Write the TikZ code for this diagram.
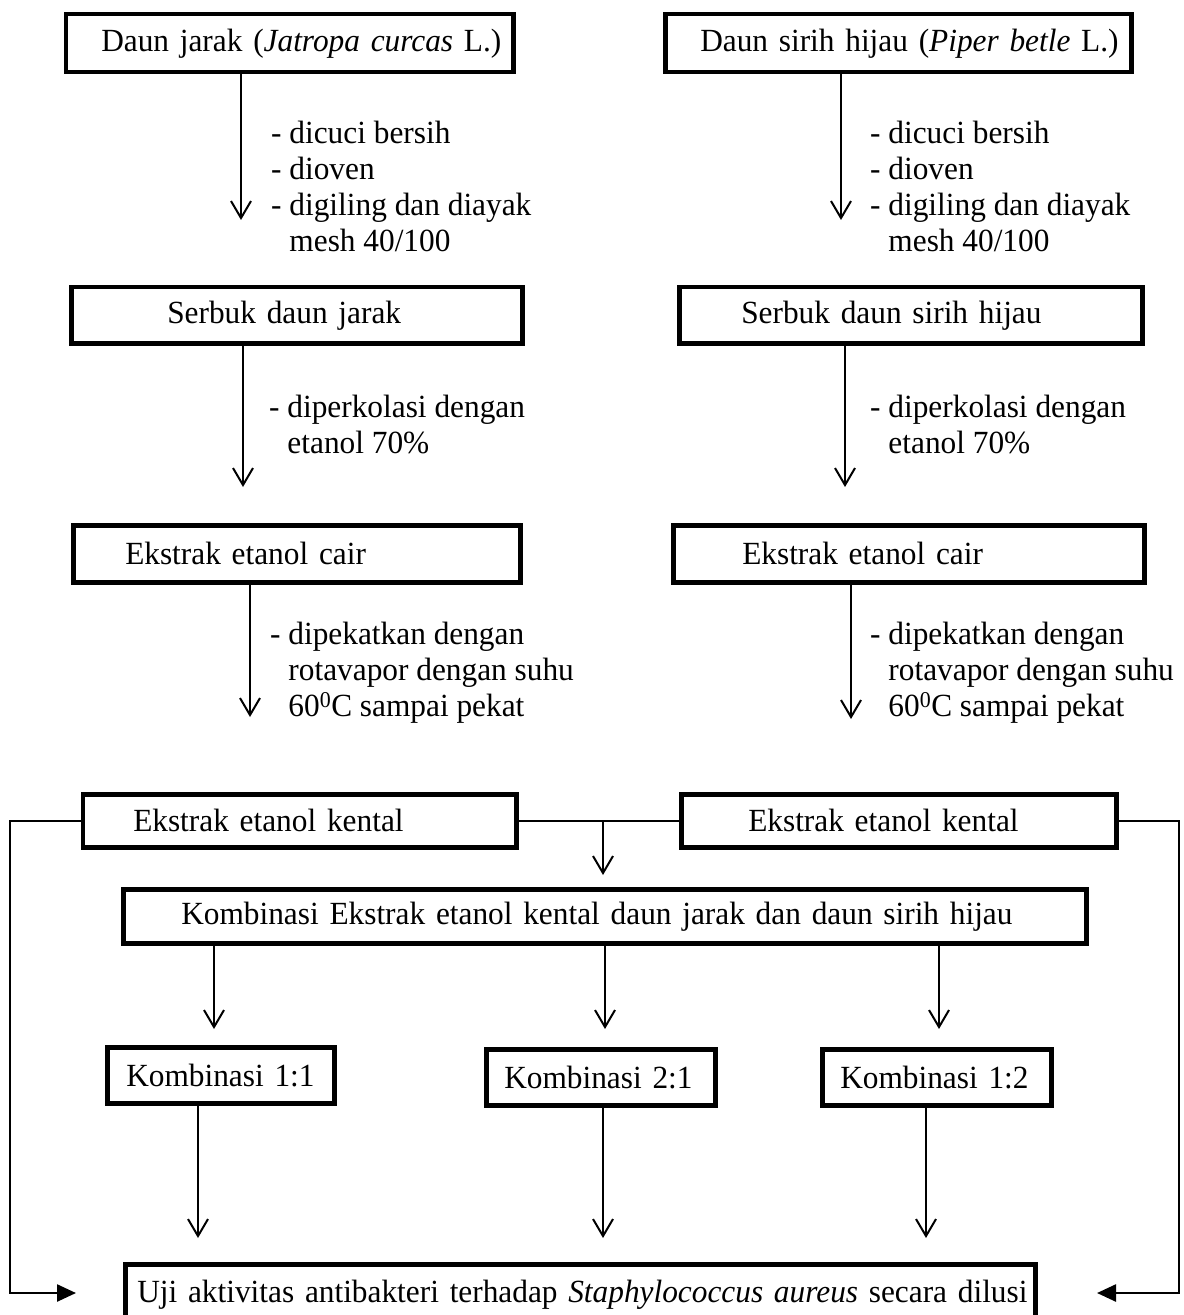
\documentclass[tikz,border=0pt]{standalone}
\usepackage{fontspec}
\setmainfont[FakeStretch=0.97]{Liberation Serif}
\usetikzlibrary{arrows.meta}
\begin{document}
\begin{tikzpicture}[x=1bp,y=-1bp,
  every node/.style={font=\fontsize{32.3bp}{36bp}\selectfont},
  box/.style={draw, line width=4.5bp, inner xsep=0pt, inner ysep=0pt, align=left, anchor=north west},
  ann/.style={inner sep=0pt, align=left, anchor=west},
  arr/.style={line width=2bp, -{Straight Barb[length=17bp,width=20bp]}},
  conn/.style={line width=2bp},
  loopline/.style={line width=2.5bp, -{Triangle[length=19bp,width=17bp]}}]
\useasboundingbox (0,0) rectangle (1183,1315);
% row 1
\node[box, text width=447.5bp, minimum height=58bp] (a1) at (63.5,12) {\mbox{\hspace*{35.5bp}Daun jarak (\textit{Jatropa curcas} L.)}};
\node[box, text width=466bp, minimum height=58bp] (b1) at (663,12) {\mbox{\hspace*{35bp}Daun sirih hijau (\textit{Piper betle} L.)}};
% row 2
\node[box, text width=451bp, minimum height=56bp] (a2) at (69,285) {\mbox{\hspace*{96bp}Serbuk daun jarak}};
\node[box, text width=463bp, minimum height=56bp] (b2) at (677,285) {\mbox{\hspace*{62bp}Serbuk daun sirih hijau}};
% row 3
\node[box, text width=447bp, minimum height=57bp] (a3) at (71,523) {\mbox{\hspace*{52bp}Ekstrak etanol cair}};
\node[box, text width=471bp, minimum height=57bp] (b3) at (671,523) {\mbox{\hspace*{69bp}Ekstrak etanol cair}};
% row 4
\node[box, text width=433.5bp, minimum height=53bp] (a4) at (80.5,792) {\mbox{\hspace*{50.5bp}Ekstrak etanol kental}};
\node[box, text width=435bp, minimum height=53bp] (b4) at (679,792) {\mbox{\hspace*{67bp}Ekstrak etanol kental}};
% combination
\node[box, text width=963bp, minimum height=54bp] (komb) at (121,887) {\mbox{\hspace*{58bp}Kombinasi Ekstrak etanol kental daun jarak dan daun sirih hijau}};
\node[box, text width=227bp, minimum height=56bp] (k11) at (105,1045) {\mbox{\hspace*{19bp}Kombinasi 1:1}};
\node[box, text width=229bp, minimum height=56bp] (k21) at (484,1047) {\mbox{\hspace*{18bp}Kombinasi 2:1}};
\node[box, text width=229bp, minimum height=56bp] (k12) at (820,1047) {\mbox{\hspace*{18bp}Kombinasi 1:2}};
\node[box, text width=910bp, minimum height=62bp] (uji) at (123,1262) {\mbox{\hspace*{12bp}Uji aktivitas antibakteri terhadap \textit{Staphylococcus aureus} secara dilusi}};
% annotations
\node[ann] (n1a) at (271,186) {- dicuci bersih\\- dioven\\- digiling dan diayak\\\hphantom{-\ }mesh 40/100};
\node[ann] (n1b) at (870,186) {- dicuci bersih\\- dioven\\- digiling dan diayak\\\hphantom{-\ }mesh 40/100};
\node[ann] (n2a) at (269,425) {- diperkolasi dengan\\\hphantom{-\ }etanol 70\%};
\node[ann] (n2b) at (870,425) {- diperkolasi dengan\\\hphantom{-\ }etanol 70\%};
\node[ann] (n3a) at (270,673) {- dipekatkan dengan\\\hphantom{-\ }rotavapor dengan suhu\\\hphantom{-\ }60\textsuperscript{0}C sampai pekat};
\node[ann] (n3b) at (870,673) {- dipekatkan dengan\\\hphantom{-\ }rotavapor dengan suhu\\\hphantom{-\ }60\textsuperscript{0}C sampai pekat};
% arrow ends
\coordinate (t1a) at (241,220);
\coordinate (t1b) at (841,220);
\coordinate (t2a) at (243,487);
\coordinate (t2b) at (845,487);
\coordinate (t3a) at (250,717);
\coordinate (t3b) at (851,719);
\draw[arr] (a1.south -| t1a) -- (t1a);
\draw[arr] (b1.south -| t1b) -- (t1b);
\draw[arr] (a2.south -| t2a) -- (t2a);
\draw[arr] (b2.south -| t2b) -- (t2b);
\draw[arr] (a3.south -| t3a) -- (t3a);
\draw[arr] (b3.south -| t3b) -- (t3b);
% merge
\draw[conn] (a4.east) -- (b4.west);
\coordinate (jx) at (603,875);
\draw[arr] (a4.east -| jx) -- (jx);
% from combination
\coordinate (d1) at (214,1029);
\coordinate (d2) at (605,1029);
\coordinate (d3) at (939,1029);
\draw[arr] (komb.south -| d1) -- (d1);
\draw[arr] (komb.south -| d2) -- (d2);
\draw[arr] (komb.south -| d3) -- (d3);
\coordinate (e1) at (198,1238);
\coordinate (e2) at (603,1238);
\coordinate (e3) at (926,1238);
\draw[arr] (k11.south -| e1) -- (e1);
\draw[arr] (k21.south -| e2) -- (e2);
\draw[arr] (k12.south -| e3) -- (e3);
% side loops
\coordinate (lb) at (10,1293);
\coordinate (lt) at (76,1293);
\coordinate (rb) at (1179,1293);
\coordinate (rt) at (1097,1293);
\draw[loopline] (a4.west) -| (lb) -- (lt);
\draw[loopline] (b4.east) -| (rb) -- (rt);
\end{tikzpicture}
\end{document}
